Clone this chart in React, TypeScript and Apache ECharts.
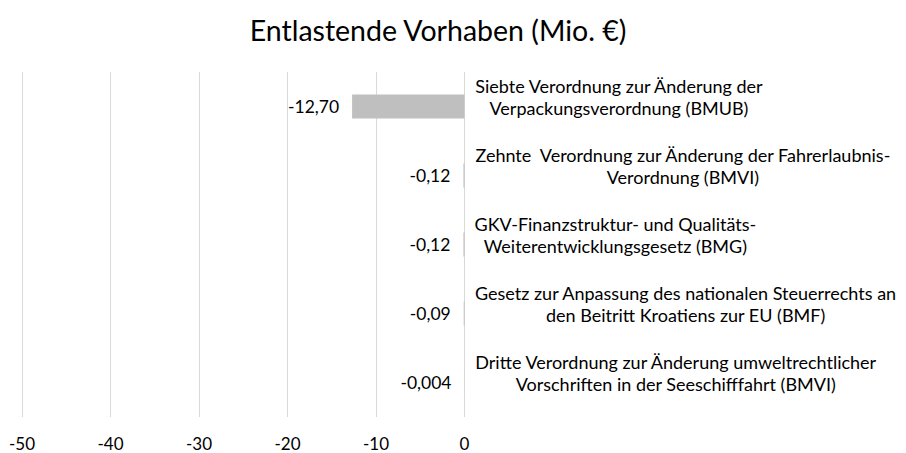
import React, { useEffect, useRef } from "react";
import * as echarts from "echarts";

const titleText = "Entlastende Vorhaben (Mio. €)";
const categories = [
  "Siebte Verordnung zur Änderung der\nVerpackungsverordnung (BMUB)",
  "Zehnte  Verordnung zur Änderung der Fahrerlaubnis-\nVerordnung (BMVI)",
  "GKV-Finanzstruktur- und Qualitäts-\nWeiterentwicklungsgesetz (BMG)",
  "Gesetz zur Anpassung des nationalen Steuerrechts an\nden Beitritt Kroatiens zur EU (BMF)",
  "Dritte Verordnung zur Änderung umweltrechtlicher\nVorschriften in der Seeschifffahrt (BMVI)",
];
const values = [-12.7, -0.12, -0.12, -0.09, -0.004];
const xMin = -50;
const xMax = 0;
const xInterval = 10;

const FONT = "Lato";

function fmt(v: number): string {
  const d = Math.abs(v) < 0.01 ? 3 : 2;
  return v.toFixed(d).replace(".", ",");
}

export default function App() {
  const ref = useRef<HTMLDivElement>(null);
  useEffect(() => {
    if (!ref.current) return;
    const chart = echarts.init(ref.current, undefined, { renderer: "svg" });
    chart.setOption({
      animation: false,
      backgroundColor: "#ffffff",
      title: {
        text: titleText,
        left: 433,
        textAlign: "center",
        top: 10,
        textStyle: { fontFamily: FONT, fontSize: 28.5, fontWeight: "normal", color: "#000000" },
      },
      grid: { left: 22, right: 441.5, top: 72, bottom: 36, containLabel: false },
      xAxis: {
        type: "value",
        min: xMin,
        max: xMax,
        interval: xInterval,
        position: "bottom",
        axisLine: { show: false },
        axisTick: { show: false },
        splitLine: { show: true, lineStyle: { color: "#d9d9d9", width: 1 } },
        axisLabel: { fontFamily: FONT, fontSize: 17, color: "#000000", margin: 18 },
      },
      yAxis: {
        type: "category",
        data: categories,
        inverse: true,
        position: "right",
        axisLine: { show: false },
        axisTick: { show: false },
        splitLine: { show: false },
        axisLabel: {
          fontFamily: FONT,
          fontSize: 18,
          color: "#000000",
          align: "left",
          margin: 10,
          padding: [0, 0, 20, 0],
          lineHeight: 22,
          formatter: (v: string) =>
            v
              .split("\n")
              .map((s) => "{c|" + s + "}")
              .join("\n"),
          rich: {
            c: { align: "center", fontFamily: FONT, fontSize: 18, lineHeight: 22, color: "#000000" },
          },
        },
      },
      series: [
        {
          type: "bar",
          data: values,
          barWidth: 24,
          itemStyle: { color: "#bfbfbf" },
          label: {
            show: true,
            position: "left",
            distance: 13,
            fontFamily: FONT,
            fontSize: 17.5,
            color: "#000000",
            formatter: (p: any) => fmt(p.value),
          },
        },
      ],
    });
    return () => chart.dispose();
  }, []);
  return (
    <div
      ref={ref}
      style={{ position: "fixed", left: 0, top: 0, width: 906, height: 453, background: "#fff" }}
    />
  );
}
